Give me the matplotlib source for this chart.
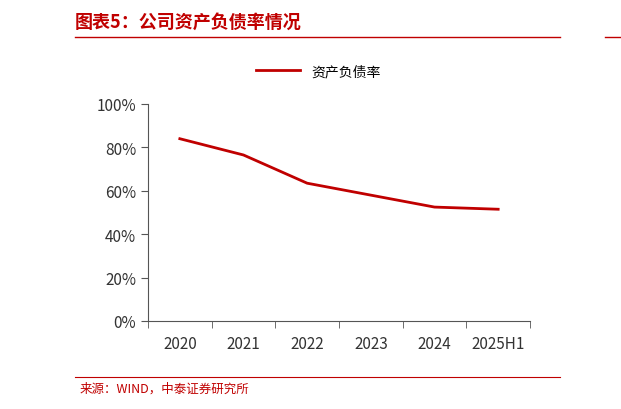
import matplotlib
matplotlib.use("Agg")
import matplotlib.pyplot as plt
import numpy as np
from matplotlib.lines import Line2D

plt.rcParams['font.family'] = ['Noto Sans CJK SC', 'DejaVu Sans']

categories = ["2020", "2021", "2022", "2023", "2024", "2025H1"]
values = [84.0, 76.5, 63.5, 58.0, 52.5, 51.5]
yticks = [0, 20, 40, 60, 80, 100]
red = "#C00000"

fig = plt.figure(figsize=(6.21, 4.10), dpi=100)
ax = fig.add_axes([148/621, 1-322/410, (530-148)/621, (322-105)/410])
x = np.arange(len(categories))
ax.plot(x, values, color=red, lw=2, label="资产负债率")
ax.set_xlim(-0.5, len(categories)-0.5)
ax.set_ylim(0, 100)
ax.set_yticks(yticks)
ax.set_yticklabels([f"{v}%" for v in yticks], fontsize=11, color="#333333")
ax.set_xticks(x)
ax.set_xticklabels(categories, fontsize=11, color="#333333")
ax.set_xticks(np.arange(-0.5, len(categories)), minor=True)
ax.tick_params(axis='x', which='major', length=0, pad=10)
ax.tick_params(axis='x', which='minor', length=5, color="#555555", direction='out')
ax.tick_params(axis='y', length=5, color="#555555", direction='out')
for s in ["top", "right"]:
    ax.spines[s].set_visible(False)
for s in ["left", "bottom"]:
    ax.spines[s].set_color("#555555")

fig.legend(handles=[Line2D([], [], color=red, lw=2)], labels=["资产负债率"],
           loc="center", bbox_to_anchor=(318/621, 1-72/410), frameon=False,
           fontsize=10, handlelength=3.2)

fig.text(75/621, 1-22/410, "图表5：公司资产负债率情况", color=red, fontsize=13,
         fontweight="bold", style="italic", va="center", ha="left")
fig.add_artist(Line2D([75/621, 560/621], [1-38/410]*2, color=red, lw=1))
fig.add_artist(Line2D([605/621, 1.0], [1-38/410]*2, color=red, lw=1))
fig.add_artist(Line2D([75/621, 560/621], [1-378/410]*2, color=red, lw=0.8))
fig.text(80/621, 1-389/410, "来源：WIND，中泰证券研究所", color=red, fontsize=9,
         style="italic", va="center", ha="left")
fig.savefig("out.png", dpi=100)
